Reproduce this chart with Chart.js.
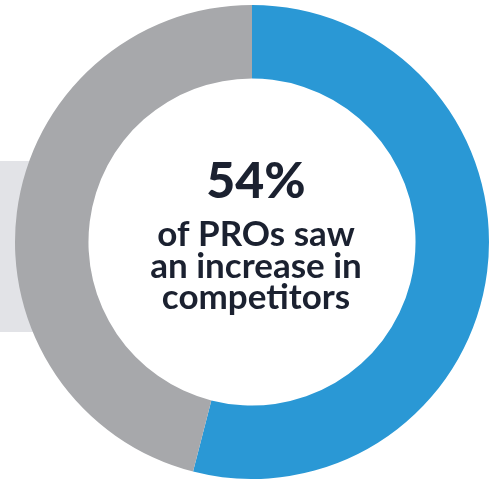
<!DOCTYPE html>
<html>
<head>
<meta charset="utf-8">
<script src="https://cdn.jsdelivr.net/npm/chart.js@4/dist/chart.umd.min.js"></script>
<style>
  html, body { margin: 0; padding: 0; background: #ffffff; overflow: hidden; }
  #wrap { position: relative; width: 491px; height: 479px; }
  #panel { position: absolute; left: 0; top: 161px; width: 60px; height: 171px; background: #e2e3e7; }
  #chart { position: absolute; left: 0; top: 0; }
</style>
</head>
<body>
<div id="wrap">
  <div id="panel"></div>
  <canvas id="chart" width="491" height="479"></canvas>
</div>
<script>
// Share of PROs by change in number of competitors
const categories = ['Saw an increase in competitors', 'Did not'];
const shares = [54, 46];
const sliceColors = ['#2a98d5', '#a7a8ab'];
const captionLines = ['of PROs saw', 'an increase in', 'competitors'];

const centerText = {
  id: 'centerText',
  afterDraw(chart) {
    const ctx = chart.ctx;
    const arc = chart.getDatasetMeta(0).data[0];
    const cx = arc.x + 4;
    const cy = arc.y;
    ctx.save();
    ctx.fillStyle = '#1b2130';
    ctx.textAlign = 'center';
    ctx.textBaseline = 'alphabetic';
    ctx.font = '900 50px Lato';
    ctx.fillText(shares[0] + '%', cx, cy - 44);
    ctx.font = '700 35px Lato';
    captionLines.forEach((line, i) => {
      ctx.fillText(line, cx, cy + 4 + i * 31.5);
    });
    ctx.restore();
  }
};

new Chart(document.getElementById('chart'), {
  type: 'doughnut',
  data: {
    labels: categories,
    datasets: [{
      data: shares,
      backgroundColor: sliceColors,
      borderWidth: 0,
      hoverOffset: 0
    }]
  },
  options: {
    responsive: false,
    animation: false,
    cutout: '69%',
    rotation: 0,
    layout: { padding: { left: 15, right: 2, top: 5, bottom: 0 } },
    plugins: {
      legend: { display: false },
      tooltip: { enabled: false }
    }
  },
  plugins: [centerText]
});
</script>
</body>
</html>
